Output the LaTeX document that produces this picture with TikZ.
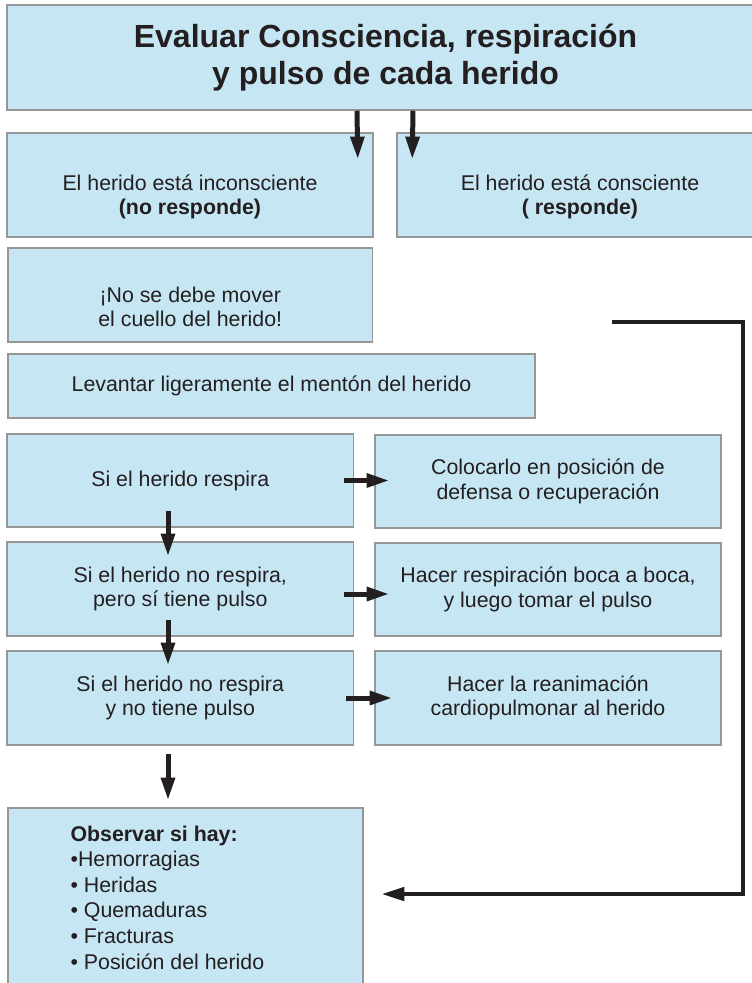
\documentclass[tikz,border=0pt]{standalone}
\usepackage{fontspec}
\setmainfont{Liberation Sans}
\usetikzlibrary{arrows.meta}
\usetikzlibrary{calc}
\usetikzlibrary{positioning}
\definecolor{mceleste}{RGB}{199,230,243}
\definecolor{mgris}{RGB}{150,150,150}
\definecolor{mnegro}{RGB}{35,31,32}
\tikzset{caja/.style = {draw=mgris, line width=1.1pt, fill=mceleste, inner sep=0pt,
                        text=mnegro, align=center,
                        font=\fontsize{16}{18.5}\selectfont},
         texto/.style = {inner sep=0pt, text=mnegro, align=center,
                         font=\fontsize{16}{18.5}\selectfont},
         flecha/.style = {draw=mnegro, line width=3.75pt,
                          -{Triangle[length=17pt, width=10pt]}},
         linea/.style = {draw=mnegro, line width=3pt,
                         -{Triangle[length=17pt, width=10pt]}}}

\begin{document}
\begin{tikzpicture}[x=0.75pt, y=-0.75pt]
    \useasboundingbox (0, 0) rectangle (751, 983);

    \node [caja, minimum width=567.75pt, minimum height=78.75pt,
           font=\fontsize{24}{27.75}\selectfont\bfseries] (titulo) at (385.5, 57.5)
          {Evaluar Consciencia, respiración\\y pulso de cada herido};

    \node [caja, minimum width=274.5pt, minimum height=78pt] (incons) at (190, 185) {};
    \node [caja, minimum width=274.5pt, minimum height=78pt] (consc) at (580, 185) {};
    \node [texto] (tincons) at ($(incons.center)+(0, 12)$)
          {El herido está inconsciente\\\textbf{(no responde)}};
    \node [texto] (tconsc) at ($(consc.center)+(0, 12)$)
          {El herido está consciente\\\textbf{( responde)}};

    \node [caja, minimum width=273.4pt, minimum height=70.5pt] (nomover) at (190.25, 295) {};
    \node [texto] (tnomover) at ($(nomover.center)+(0, 12)$)
          {¡No se debe mover\\el cuello del herido!};

    \node [caja, minimum width=395.25pt, minimum height=48pt] (levantar) at (271.5, 386)
          {Levantar ligeramente el mentón del herido};

    \node [caja, minimum width=260pt, minimum height=69.75pt] (respira) at (180.25, 480.5)
          {Si el herido respira};
    \node [caja, minimum width=259.5pt, minimum height=69.75pt] (colocar) at (548, 481.5)
          {Colocarlo en posición de\\defensa o recuperación};

    \node [caja, minimum width=260pt, minimum height=70.5pt] (pulso) at (180.25, 589)
          {Si el herido no respira,\\pero sí tiene pulso};
    \node [caja, minimum width=259.5pt, minimum height=69.75pt] (boca) at (548, 589.5)
          {Hacer respiración boca a boca,\\y luego tomar el pulso};

    \node [caja, minimum width=260pt, minimum height=70.5pt] (nopulso) at (180.25, 698)
          {Si el herido no respira\\y no tiene pulso};
    \node [caja, minimum width=259.5pt, minimum height=70.5pt] (rcp) at (548, 698)
          {Hacer la reanimación\\cardiopulmonar al herido};

    \node [caja, minimum width=266.25pt, minimum height=157.5pt] (observar) at (185.5, 913) {};
    \node [texto, anchor=north west, align=left, font=\fontsize{16}{19.2}\selectfont] (lista)
          at ($(observar.north west)+(63, 18)$)
          {\textbf{Observar si hay:}\\•Hemorragias\\• Heridas\\• Quemaduras\\• Fracturas\\• Posición del herido};

    \draw [flecha] ($(titulo.south)+(-28.5, 0)$) -- ($(incons.north east)+(-16, 27)$);
    \draw [flecha] ($(titulo.south)+(27.5, 0)$) -- ($(consc.north west)+(16, 27)$);

    \draw [flecha] ($(respira.south)+(-12.25, -17)$) -- ($(pulso.north)+(-12.25, 15)$);
    \draw [flecha] ($(pulso.south)+(-12.25, -17)$) -- ($(nopulso.north)+(-12.25, 15)$);
    \draw [flecha] ($(nopulso.south)+(-12.25, 8)$) -- ($(observar.north)+(-17.5, -7)$);

    \draw [flecha] ($(respira.east)+(-10.5, 0)$) -- ($(colocar.west)+(15, -1)$);
    \draw [flecha] ($(pulso.east)+(-10.5, 5)$) -- ($(boca.west)+(15, 4.5)$);
    \draw [flecha] ($(nopulso.east)+(-8.5, 0)$) -- ($(rcp.west)+(18, 0)$);

    \coordinate (ini) at (612, 322);
    \coordinate (esq) at (743, 894);
    \draw [linea] (ini) -| (esq) -- ($(observar.east)+(18, -19)$);
  \end{tikzpicture}
\end{document}
